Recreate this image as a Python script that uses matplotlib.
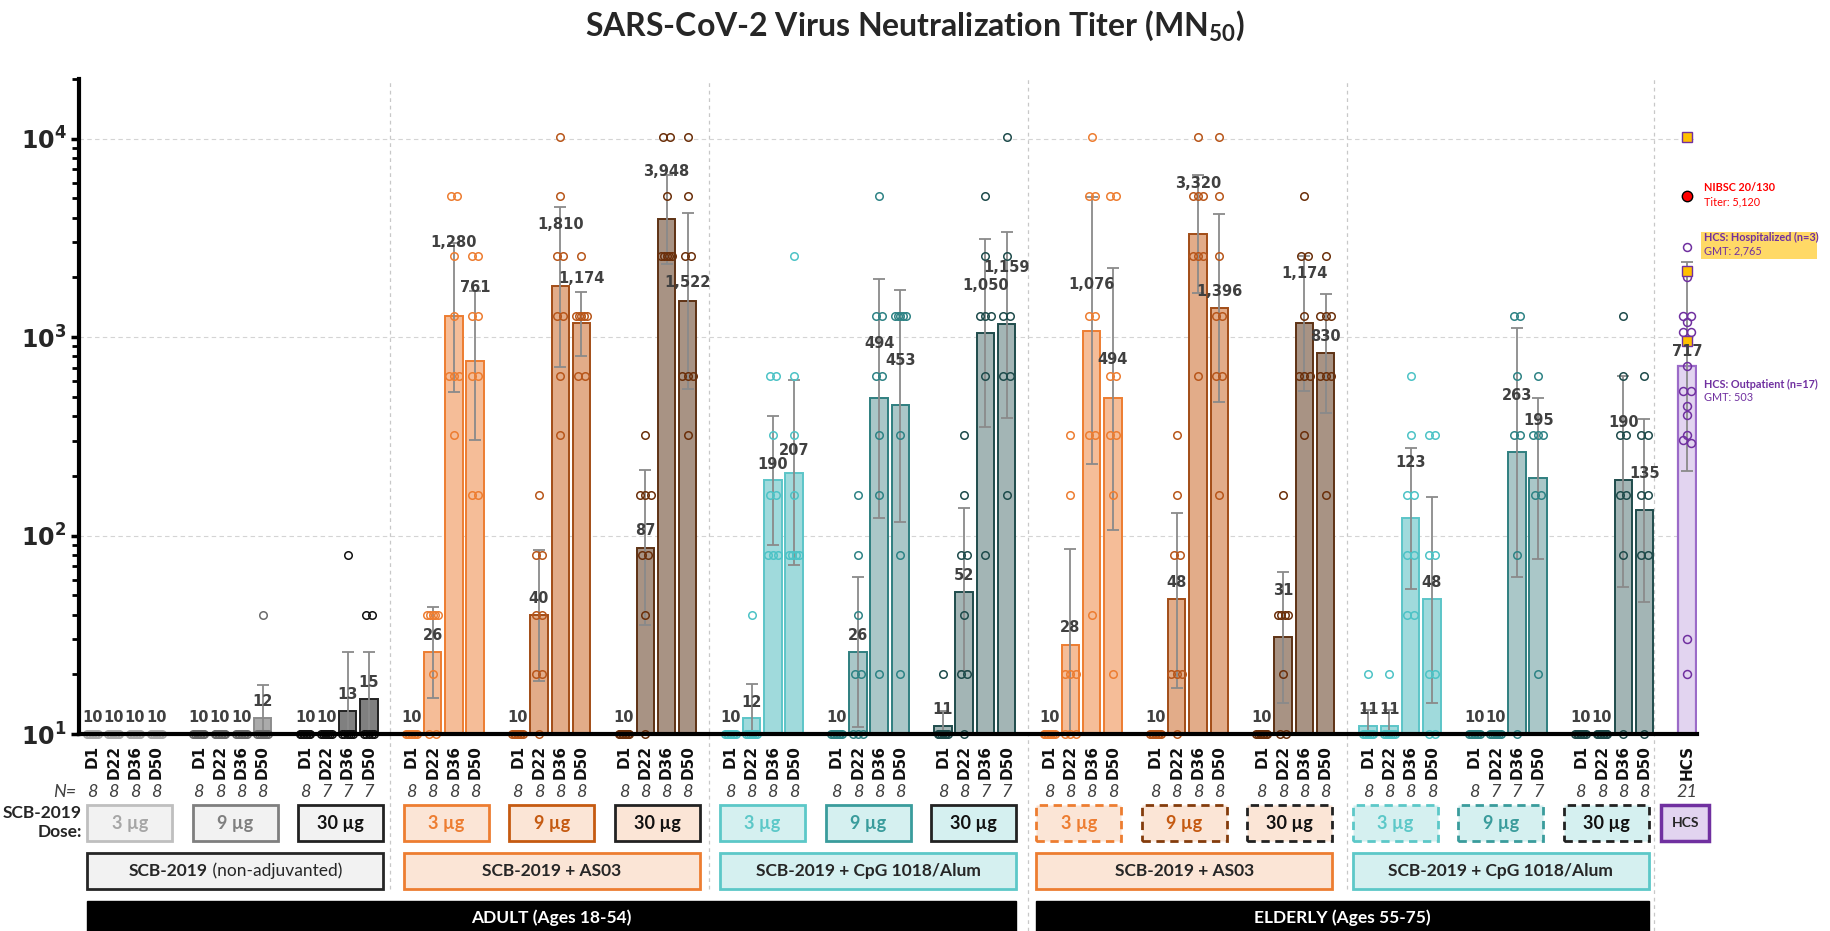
import numpy as np
import matplotlib
matplotlib.use('Agg')
import matplotlib.pyplot as plt
import matplotlib.transforms as mtransforms
from matplotlib.patches import Rectangle

plt.rcParams['font.family'] = ['DejaVu Sans']
plt.rcParams['mathtext.fontset'] = 'custom'
plt.rcParams['mathtext.rm'] = 'Lato:bold'
plt.rcParams['mathtext.bf'] = 'Lato:bold'
plt.rcParams['mathtext.sf'] = 'DejaVu Sans:bold'

# ---------------- data ----------------
days = ['D1', 'D22', 'D36', 'D50']
dose_labels = ['3 µg', '9 µg', '30 µg', '3 µg', '9 µg', '30 µg', '3 µg', '9 µg', '30 µg',
               '3 µg', '9 µg', '30 µg', '3 µg', '9 µg', '30 µg']
formulations = ['SCB-2019', 'SCB-2019 + AS03', 'SCB-2019 + CpG 1018/Alum',
                'SCB-2019 + AS03', 'SCB-2019 + CpG 1018/Alum']
age_groups = ['ADULT (Ages 18-54)', 'ELDERLY (Ages 55-75)']

n_subjects = [[8, 8, 8, 8], [8, 8, 8, 8], [8, 7, 7, 7],
              [8, 8, 8, 8], [8, 8, 8, 8], [8, 8, 8, 8],
              [8, 8, 8, 8], [8, 8, 8, 8], [8, 8, 7, 7],
              [8, 8, 8, 8], [8, 8, 8, 8], [8, 8, 8, 8],
              [8, 8, 8, 8], [8, 7, 7, 7], [8, 8, 8, 8]]
hcs_n = 21

gmt = [[10, 10, 10, 10], [10, 10, 10, 12], [10, 10, 13, 15],
       [10, 26, 1280, 761], [10, 40, 1810, 1174], [10, 87, 3948, 1522],
       [10, 12, 190, 207], [10, 26, 494, 453], [11, 52, 1050, 1159],
       [10, 28, 1076, 494], [10, 48, 3320, 1396], [10, 31, 1174, 830],
       [11, 11, 123, 48], [10, 10, 263, 195], [10, 10, 190, 135]]
hcs_gmt = 717

ci_low = [[None, None, None, None], [None, None, None, 8.1], [None, None, 7.1, 8.7],
          [None, 15.2, 532, 303], [None, 18.6, 711, 807], [None, 35.4, 2325, 548],
          [None, 8.1, 89.6, 70.8], [None, 10.8, 123, 117], [9.2, 20.8, 351, 393],
          [None, 9.1, 230, 107], [None, 17.1, 1667, 469], [None, 14.4, 535, 415],
          [9.2, 9.2, 54.1, 14.4], [None, None, 61.5, 76.3], [None, None, 55.2, 46.4]]
ci_high = [[None, None, None, None], [None, None, None, 17.7], [None, None, 25.8, 25.8],
           [None, 43.9, 2970, 1708], [None, 84.9, 4545, 1690], [None, 213, 6560, 4225],
           [None, 17.8, 399, 605], [None, 61.8, 1959, 1733], [13.1, 137, 3133, 3405],
           [None, 85.8, 5085, 2234], [None, 130, 6560, 4160], [None, 65.2, 2564, 1642],
           [13.2, 13.2, 277.7, 156], [None, None, 1109, 492], [None, None, 638, 387]]
hcs_ci = [211.6, 2404]

# individual titers, one list per group (D1, D22, D36, D50)
pts_nonadj_3 = [[10, 10, 10, 10, 10, 10, 10, 10], [10, 10, 10, 10, 10, 10, 10, 10],
                [10, 10, 10, 10, 10, 10, 10, 10], [10, 10, 10, 10, 10, 10, 10, 10]]
pts_nonadj_9 = [[10, 10, 10, 10, 10, 10, 10, 10], [10, 10, 10, 10, 10, 10, 10, 10],
                [10, 10, 10, 10, 10, 10, 10, 10], [40, 10, 10, 10, 10, 10, 10, 10]]
pts_nonadj_30 = [[10, 10, 10, 10, 10, 10, 10, 10], [10, 10, 10, 10, 10, 10, 10],
                 [80, 10, 10, 10, 10, 10, 10], [40, 40, 10, 10, 10, 10, 10]]
pts_as03_adult_3 = [[10, 10, 10, 10, 10, 10, 10, 10], [40, 40, 40, 40, 40, 20, 10, 10],
                    [5120, 5120, 2560, 1280, 640, 640, 640, 320],
                    [2560, 2560, 1280, 1280, 640, 640, 160, 160]]
pts_as03_adult_9 = [[10, 10, 10, 10, 10, 10, 10, 10], [160, 80, 80, 40, 40, 20, 20, 10],
                    [10240, 5120, 2560, 2560, 1280, 1280, 640, 320],
                    [2560, 1280, 1280, 1280, 1280, 1280, 640, 640]]
pts_as03_adult_30 = [[10, 10, 10, 10, 10, 10, 10, 10], [320, 160, 160, 160, 80, 80, 40, 10],
                     [10240, 10240, 5120, 2560, 2560, 2560, 2560, 2560],
                     [10240, 5120, 2560, 2560, 640, 640, 640, 320]]
pts_cpg_adult_3 = [[10, 10, 10, 10, 10, 10, 10, 10], [40, 10, 10, 10, 10, 10, 10, 10],
                   [640, 640, 320, 160, 160, 80, 80, 80],
                   [2560, 640, 320, 160, 80, 80, 80, 80]]
pts_cpg_adult_9 = [[10, 10, 10, 10, 10, 10, 10, 10], [160, 80, 40, 20, 20, 10, 10, 10],
                   [5120, 1280, 1280, 640, 640, 320, 160, 20],
                   [1280, 1280, 1280, 1280, 1280, 320, 80, 20]]
pts_cpg_adult_30 = [[20, 10, 10, 10, 10, 10, 10, 10], [320, 160, 80, 80, 40, 20, 20, 10],
                    [5120, 2560, 1280, 1280, 1280, 640, 80],
                    [10240, 2560, 1280, 1280, 640, 640, 160]]
pts_as03_elder_3 = [[10, 10, 10, 10, 10, 10, 10, 10], [320, 160, 20, 20, 20, 10, 10, 10],
                    [10240, 5120, 5120, 1280, 1280, 320, 320, 40],
                    [5120, 5120, 640, 640, 320, 320, 160, 20]]
pts_as03_elder_9 = [[10, 10, 10, 10, 10, 10, 10, 10], [320, 160, 80, 80, 20, 20, 20, 10],
                    [10240, 5120, 5120, 5120, 2560, 2560, 2560, 640],
                    [10240, 5120, 2560, 1280, 1280, 640, 640, 160]]
pts_as03_elder_30 = [[10, 10, 10, 10, 10, 10, 10, 10], [160, 40, 40, 40, 40, 20, 10, 10],
                     [5120, 2560, 2560, 1280, 640, 640, 640, 320],
                     [2560, 1280, 1280, 1280, 640, 640, 640, 160]]
pts_cpg_elder_3 = [[20, 10, 10, 10, 10, 10, 10, 10], [20, 10, 10, 10, 10, 10, 10, 10],
                   [640, 320, 160, 160, 80, 80, 40, 40],
                   [320, 320, 80, 80, 20, 20, 10, 10]]
pts_cpg_elder_9 = [[10, 10, 10, 10, 10, 10, 10, 10], [10, 10, 10, 10, 10, 10, 10],
                   [1280, 1280, 640, 320, 320, 80, 10],
                   [640, 320, 320, 320, 160, 160, 20]]
pts_cpg_elder_30 = [[10, 10, 10, 10, 10, 10, 10, 10], [10, 10, 10, 10, 10, 10, 10, 10],
                    [1280, 640, 320, 320, 160, 160, 80, 10],
                    [640, 320, 320, 160, 160, 80, 80, 10]]
hcs_outpatient = [2858, 2018, 1280, 1280, 1189, 1059, 1059, 718, 537, 537, 451, 404,
                  321, 303, 292, 30, 20]
hcs_hospitalized = [10240, 2150, 960]
nibsc_titer = [5120]

all_points = [pts_nonadj_3, pts_nonadj_9, pts_nonadj_30,
              pts_as03_adult_3, pts_as03_adult_9, pts_as03_adult_30,
              pts_cpg_adult_3, pts_cpg_adult_9, pts_cpg_adult_30,
              pts_as03_elder_3, pts_as03_elder_9, pts_as03_elder_30,
              pts_cpg_elder_3, pts_cpg_elder_9, pts_cpg_elder_30]

# ---------------- layout / style ----------------
label_lift = [[.083, .083, .083, .083], [.083, .083, .083, .083], [.083, .083, .083, .083],
              [.083, .083, .37, .368], [.083, .083, .31, .227], [.083, .085, .24, .091],
              [.083, .081, .079, .115], [.083, .083, .274, .227], [.081, .083, .24, .285],
              [.083, .089, .234, .193], [.083, .083, .253, .083], [.083, .234, .253, .085],
              [.081, .081, .278, .083], [.083, .083, .287, .289], [.083, .083, .291, .185]]

pt_col = ['#ABABAB', '#6B6B6B', '#111111',
          '#ED7D31', '#B8561A', '#6B2F0A',
          '#4DC3C6', '#2E8385', '#1E4B4B']
bar_fill = ['#D0D0D0', '#ABABAB', '#808080',
            '#F5BD98', '#E2AC89', '#A89384',
            '#A0DADC', '#AAC7C8', '#A3B5B5']
bar_edge = ['#ABABAB', '#8C8C8C', '#222222',
            '#ED7D31', '#A24D17', '#5E3214',
            '#5CC5C8', '#2F7F80', '#1F4C4C']
box_edge = ['#BFBFBF', '#7F7F7F', '#222222',
            '#ED7D31', '#C55A11', '#222222',
            '#5CC8C8', '#3A9C9C', '#222222']
box_text = ['#A6A6A6', '#7F7F7F', '#111111',
            '#ED7D31', '#C55A11', '#111111',
            '#5CC8C8', '#3A9C9C', '#111111']
box_fill = ['#F2F2F2', '#F2F2F2', '#F2F2F2',
            '#FBE5D6', '#FBE5D6', '#FBE5D6',
            '#D5F0F0', '#D5F0F0', '#D5F0F0']
elder_box_edge = ['#ED7D31', '#843C0C', '#222222', '#5CC8C8', '#3A9C9C', '#222222']


def style_idx(g):
    if g < 9:
        return g
    return 3 + (g - 9)


W, H = 1830, 931
AX_L, AX_R, AX_T, AX_B = 79, 1697, 79, 734
SLOT0, PITCH = 92.5, 21.26
BOX0, BOXP, BOXW = 87.3, 105.46, 85.0

fig = plt.figure(figsize=(W / 100, H / 100), dpi=100)
ax = fig.add_axes([AX_L / W, (H - AX_B) / H, (AX_R - AX_L) / W, (AX_B - AX_T) / H])
ax.set_yscale('log')
ax.set_ylim(10, 20000)
ax.set_xlim((AX_L - SLOT0) / PITCH, (AX_R - SLOT0) / PITCH)
trans = mtransforms.blended_transform_factory(ax.transData, ax.transAxes)
FT = fig.transFigure


def ya(ypx):
    return (AX_B - ypx) / (AX_B - AX_T)


def fx(px):
    return px / W


def fy(py):
    return 1 - py / H


def jitter(vals):
    vals = np.asarray(vals, float)
    logs = np.log10(vals)
    offs = np.zeros(len(vals))
    used = np.zeros(len(vals), bool)
    for i in range(len(vals)):
        if used[i]:
            continue
        idx = np.where((~used) & (np.abs(logs - logs[i]) < 0.02))[0]
        n = len(idx)
        if n > 1:
            w = min((n - 1) * 0.3, 0.5)
            offs[idx] = np.linspace(-w / 2, w / 2, n)
        used[idx] = True
    return offs


BW = 0.82
ERR_C = '#8A8A8A'
LBL_C = '#404040'
LBL_FS = 10.5

for g in range(15):
    si = style_idx(g)
    for d in range(4):
        x = g * 5 + d
        gm = gmt[g][d]
        if gm > 10:
            ax.bar(x, gm - 10, bottom=10, width=BW, color=bar_fill[si], edgecolor=bar_edge[si],
                   linewidth=1.4, zorder=2)
        lo, hi = ci_low[g][d], ci_high[g][d]
        if lo is not None:
            ax.errorbar(x, gm, yerr=[[gm - lo], [hi - gm]], fmt='none', ecolor=ERR_C,
                        elinewidth=1.3, capsize=4, capthick=1.3, zorder=3)
        vals = all_points[g][d]
        offs = jitter(vals)
        ax.plot(x + offs, vals, 'o', mfc='none', mec=pt_col[si], ms=5.4, mew=1.1,
                zorder=4, clip_on=False)
        ax.text(x, gm * 10 ** label_lift[g][d], f'{gm:,}', ha='center', va='center',
                fontsize=LBL_FS, fontweight='bold', color=LBL_C, zorder=6)

# HCS
xh = 75
ax.bar(xh, hcs_gmt - 10, bottom=10, width=BW, color='#E2D4F0', edgecolor='#9B6BC8',
       linewidth=1.6, zorder=2)
ax.errorbar(xh, hcs_gmt, yerr=[[hcs_gmt - hcs_ci[0]], [hcs_ci[1] - hcs_gmt]], fmt='none',
            ecolor=ERR_C, elinewidth=1.3, capsize=4, capthick=1.3, zorder=3)
ax.plot(xh + jitter(hcs_outpatient) * 1.3, hcs_outpatient, 'o', mfc='none', mec='#7030A0',
        ms=5.7, mew=1.1, zorder=4, clip_on=False)
ax.plot([xh] * len(hcs_hospitalized), hcs_hospitalized, 's', mfc='#FFC000', mec='#7030A0',
        ms=6.5, mew=1.0, zorder=5, clip_on=False)
ax.plot([xh] * len(nibsc_titer), nibsc_titer, 'o', mfc='#FF0000', mec='black', ms=7.5,
        mew=1.0, zorder=5, clip_on=False)
ax.text(xh, hcs_gmt * 10 ** 0.07, f'{hcs_gmt:,}', ha='center', va='center', fontsize=LBL_FS,
        fontweight='bold', color=LBL_C, zorder=6)

xt = 75.8
ANN_FS = 7.8
ax.text(xt, 5650, 'NIBSC 20/130', fontfamily='Lato', fontweight='bold', fontsize=ANN_FS,
        color='#FF0000', va='center', ha='left', clip_on=False)
ax.text(xt, 4800, 'Titer: 5,120', fontfamily='Lato', fontsize=ANN_FS, color='#FF0000',
        va='center', ha='left', clip_on=False)
ax.add_patch(Rectangle((fx(1701), fy(259)), 116 / W, 27 / H, transform=FT, clip_on=False,
                       facecolor='#FFD966', edgecolor='none', zorder=6))
ax.text(xt, 3162, 'HCS: Hospitalized (n=3)', fontfamily='Lato', fontweight='bold',
        fontsize=ANN_FS, color='#7030A0', va='center', ha='left', clip_on=False, zorder=7)
ax.text(xt, 2716, 'GMT: 2,765', fontfamily='Lato', fontsize=ANN_FS, color='#7030A0',
        va='center', ha='left', clip_on=False, zorder=7)
ax.text(xt, 580, 'HCS: Outpatient (n=17)', fontfamily='Lato', fontweight='bold',
        fontsize=ANN_FS, color='#7030A0', va='center', ha='left', clip_on=False)
ax.text(xt, 494, 'GMT: 503', fontfamily='Lato', fontsize=ANN_FS, color='#7030A0',
        va='center', ha='left', clip_on=False)

# axes styling
for s in ['top', 'right']:
    ax.spines[s].set_visible(False)
ax.spines['left'].set_linewidth(3)
ax.spines['bottom'].set_linewidth(3)
ax.spines['left'].set_zorder(7)
ax.spines['bottom'].set_zorder(7)
ax.set_yticks([10, 100, 1000, 10000])
ax.set_yticklabels([r'$\mathsf{10^{1}}$', r'$\mathsf{10^{2}}$', r'$\mathsf{10^{3}}$',
                    r'$\mathsf{10^{4}}$'], fontsize=17, color='#262626')
ax.tick_params(axis='y', which='major', direction='out', length=6, width=2.5, pad=3)
ax.tick_params(axis='y', which='minor', direction='out', length=5, width=2)
ax.yaxis.grid(True, which='major', linestyle=(0, (4, 3)), color='#D4D4D4', linewidth=0.8)
ax.set_axisbelow(True)

xticks = [g * 5 + d for g in range(15) for d in range(4)] + [xh]
xlabels = days * 15 + ['HCS']
ax.set_xticks(xticks)
ax.set_xticklabels(xlabels, rotation=90, fontsize=11, fontweight='bold', color='#111111')
ax.tick_params(axis='x', length=0, pad=8)

# separators
for s, ybot in [(14, 889), (29, 889), (44, 931), (59, 889), (73.45, 931)]:
    ax.plot([s, s], [ya(ybot), 1], transform=trans, clip_on=False, color='#C8C8C8',
            linestyle=(0, (3, 3)), linewidth=0.9, zorder=0)

# N row
fig.text(fx(76), fy(792), 'N=', fontfamily='Lato', style='italic', fontsize=13,
         color='#404040', ha='right', va='center')
for g in range(15):
    for d in range(4):
        ax.text(g * 5 + d, ya(792), str(n_subjects[g][d]), transform=trans, ha='center',
                va='center', fontfamily='Lato', style='italic', fontsize=13, color='#404040')
ax.text(xh, ya(792), str(hcs_n), transform=trans, ha='center', va='center',
        fontfamily='Lato', style='italic', fontsize=13, color='#404040')

fig.text(fx(82), fy(813), 'SCB-2019', fontfamily='Lato', fontweight='bold', fontsize=12.5,
         color='#262626', ha='right', va='center')
fig.text(fx(82), fy(832), 'Dose:', fontfamily='Lato', fontweight='bold', fontsize=12.5,
         color='#262626', ha='right', va='center')

# dose boxes (figure pixel grid)
for g in range(15):
    si = style_idx(g)
    if g < 9:
        ec, ls = box_edge[si], '-'
    else:
        ec, ls = elder_box_edge[g - 9], (0, (3, 2))
    left = BOX0 + g * BOXP
    fig.add_artist(Rectangle((fx(left), fy(841)), BOXW / W, 36 / H, transform=FT,
                             facecolor=box_fill[si], edgecolor=ec, linewidth=2, linestyle=ls))
    fig.text(fx(left + BOXW / 2), fy(823), dose_labels[g], ha='center', va='center',
             fontfamily='Lato', fontweight='bold', fontsize=13, color=box_text[si])
fig.add_artist(Rectangle((fx(1661), fy(841)), 48.3 / W, 36 / H, transform=FT,
                         facecolor='#E2D4F0', edgecolor='#7030A0', linewidth=2.5))
fig.text(fx(1685.2), fy(823), 'HCS', ha='center', va='center', fontfamily='Lato',
         fontweight='bold', fontsize=10, color='#262626')

# formulation boxes
form_fill = ['#F2F2F2', '#FBE5D6', '#D5F0F0', '#FBE5D6', '#D5F0F0']
form_edge = ['#262626', '#ED7D31', '#5CC8C8', '#ED7D31', '#5CC8C8']
renderer = fig.canvas.get_renderer()
for k in range(5):
    left = BOX0 + k * 3 * BOXP
    width = 2 * BOXP + BOXW
    fig.add_artist(Rectangle((fx(left), fy(889)), width / W, 36 / H, transform=FT,
                             facecolor=form_fill[k], edgecolor=form_edge[k], linewidth=2))
    xc = left + width / 2
    if k == 0:
        t1 = fig.text(0, fy(871), formulations[k], ha='left', va='center',
                      fontfamily='Lato', fontweight='bold', fontsize=12.5, color='#262626')
        t2 = fig.text(0, fy(871), ' (non-adjuvanted)', ha='left', va='center',
                      fontfamily='Lato', fontsize=12.5, color='#262626')
        w1 = t1.get_window_extent(renderer).width
        w2 = t2.get_window_extent(renderer).width
        xs = xc - (w1 + w2) / 2
        t1.set_x(fx(xs))
        t2.set_x(fx(xs + w1))
    else:
        fig.text(fx(xc), fy(871), formulations[k], ha='center', va='center',
                 fontfamily='Lato', fontweight='bold', fontsize=12.5, color='#262626')

# age bars
for (a, b), lab in zip([(BOX0, BOX0 + 8 * BOXP + BOXW), (BOX0 + 9 * BOXP, BOX0 + 14 * BOXP + BOXW)],
                       age_groups):
    fig.add_artist(Rectangle((fx(a), fy(935)), (b - a) / W, 34 / H, transform=FT,
                             facecolor='black', edgecolor='black'))
    fig.text(fx((a + b) / 2), fy(918), lab, ha='center', va='center',
             fontfamily='Lato', fontweight='bold', fontsize=12.5, color='white')

fig.text(0.5, fy(26), r'SARS-CoV-2 Virus Neutralization Titer (MN$_{\mathbf{50}}$)',
         fontfamily='Lato', fontweight='bold', fontsize=23, color='#262626',
         ha='center', va='center')

fig.savefig('out.png', dpi=100)
